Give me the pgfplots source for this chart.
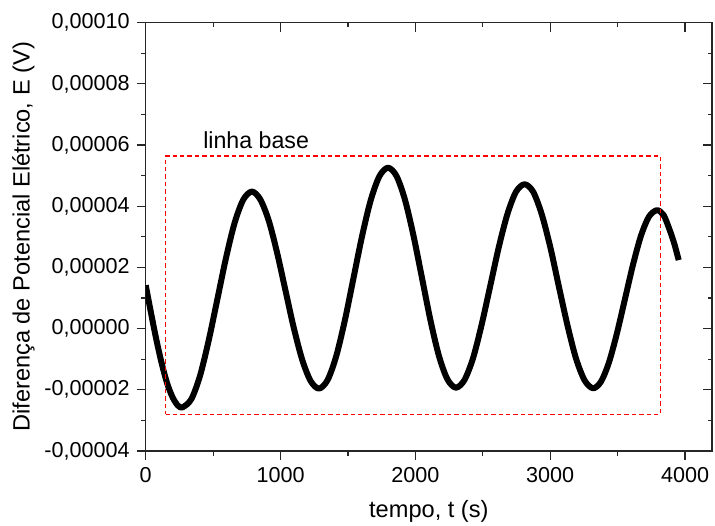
\documentclass[border=0pt]{standalone}
\usepackage{fontspec}
\setmainfont{Liberation Sans}
\usepackage{pgfplots}
\pgfplotsset{compat=1.18}
\begin{document}
\begin{tikzpicture}
\useasboundingbox (-72.85pt,-37pt) rectangle (284.65pt,225.5pt);
\pgfplotsset{
 common/.style={
  scale only axis, width=283.15pt, height=214.15pt,
  at={(0pt,0pt)}, anchor=south west,
  xmin=0, xmax=4200, ymin=-0.00004, ymax=0.0001,
  xtick={0,1000,2000,3000,4000},
  ytick={-0.00004,-0.00002,0,0.00002,0.00004,0.00006,0.00008,0.0001},
  minor x tick num=1, minor y tick num=1,
  major tick length=4.5pt, minor tick length=2.25pt,
  axis line style={line width=0.6pt, black!85},
  tick style={line width=0.6pt, black!85},
  scaled y ticks=false, scaled x ticks=false,
 }
}
\begin{axis}[common, tick align=inside, xtick pos=right, ytick pos=right,
  xticklabels={}, yticklabels={}]
\end{axis}
\begin{axis}[common, tick align=outside, xtick pos=left, ytick pos=left,
  /pgf/number format/assume math mode=true,
  ticklabel style={font=\fontsize{10.8}{13}\selectfont},
  xticklabel style={/pgf/number format/1000 sep={}},
  yticklabel style={/pgf/number format/.cd, fixed, fixed zerofill, precision=5, use comma, assume math mode=true},
  label style={font=\fontsize{11.8}{14}\selectfont},
  xlabel={tempo, t (s)},
  xlabel style={yshift=-2pt},
  ylabel={Diferença de Potencial Elétrico, E (V)},
  ylabel style={yshift=-2pt},
  ]
\addplot[black, line width=3pt, line join=round, smooth] table {
t y
0 14.2e-6
40 5.0e-6
80 -3.8e-6
120 -11.6e-6
160 -18.0e-6
200 -22.5e-6
240 -25.2e-6
275 -25.7e-6
339 -23.0e-6
403 -15.4e-6
467 -3.9e-6
531 9.5e-6
595 23.0e-6
659 34.5e-6
723 42.1e-6
787 44.8e-6
849 42.3e-6
912 35.4e-6
974 24.9e-6
1036 12.6e-6
1098 0.3e-6
1161 -10.2e-6
1223 -17.1e-6
1285 -19.6e-6
1349 -16.8e-6
1413 -9.0e-6
1477 2.7e-6
1541 16.5e-6
1605 30.3e-6
1669 42.0e-6
1733 49.8e-6
1797 52.6e-6
1860 49.9e-6
1923 42.1e-6
1986 30.4e-6
2049 16.6e-6
2111 2.9e-6
2174 -8.8e-6
2237 -16.5e-6
2300 -19.3e-6
2364 -16.8e-6
2428 -9.6e-6
2491 1.2e-6
2555 13.9e-6
2619 26.7e-6
2683 37.5e-6
2746 44.7e-6
2810 47.2e-6
2874 44.7e-6
2937 37.4e-6
3001 26.6e-6
3064 13.8e-6
3128 1.1e-6
3191 -9.7e-6
3255 -16.9e-6
3318 -19.5e-6
3377 -17.3e-6
3436 -11.0e-6
3495 -1.5e-6
3554 9.6e-6
3613 20.7e-6
3672 30.2e-6
3731 36.5e-6
3790 38.7e-6
3840 37.2e-6
3884 32.5e-6
3920 27.8e-6
3953 22.4e-6
};
\addplot[red, line width=0.6pt, dash pattern=on 2.2pt off 1.5pt] coordinates {
(148,-28.0e-6) (3815,-28.0e-6) (3815,56.4e-6) (148,56.4e-6) (148,-28.0e-6)
};
\node[anchor=base west, inner sep=0pt, font=\fontsize{11.6}{14}\selectfont] at (axis cs:424,59e-6) {linha base};
\end{axis}
\end{tikzpicture}
\end{document}
